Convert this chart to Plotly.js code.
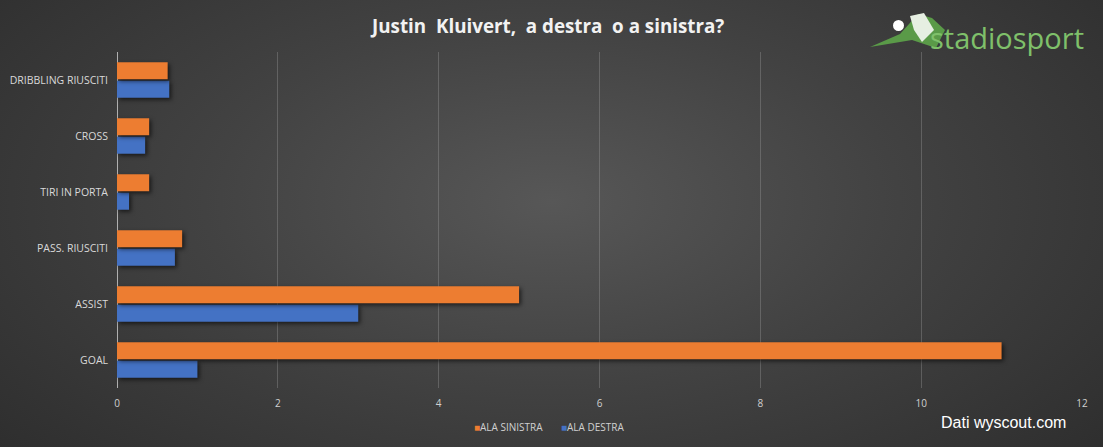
<!DOCTYPE html>
<html><head><meta charset="utf-8">
<script src="https://cdn.plot.ly/plotly-3.0.1.min.js"></script>
<style>
html,body{margin:0;padding:0;background:#2b2b2b;}
#chart{width:1103px;height:447px;background:radial-gradient(ellipse 70% 90% at 50% 45%, #575757 0%, #424242 45%, #2c2c2c 100%);}
#chart .trace.bars path{filter:drop-shadow(2px 2px 2px rgba(0,0,0,0.6));}
</style></head><body>
<div id="chart"></div>
<script>
const categories = ["GOAL","ASSIST","PASS. RIUSCITI","TIRI IN PORTA","CROSS","DRIBBLING RIUSCITI"];
const alaSinistra = [11, 5, 0.81, 0.4, 0.4, 0.63];
const alaDestra = [1, 3, 0.72, 0.15, 0.35, 0.65];
const xTicks = [0,2,4,6,8,10,12];
const seriesNames = ["ALA SINISTRA","ALA DESTRA"];
const seriesColors = ["#ED7D31","#4472C4"];

const traces = [
  {type:'bar', orientation:'h', name:seriesNames[1], y:categories, x:alaDestra,
   marker:{color:seriesColors[1]}, hoverinfo:'x'},
  {type:'bar', orientation:'h', name:seriesNames[0], y:categories, x:alaSinistra,
   marker:{color:seriesColors[0]}, hoverinfo:'x'}
];

const px = v => (v-117)/965;
const py = v => 1+(52-v)/336;

const legendItem = i => '<span style="color:'+seriesColors[i]+'">■</span>'+seriesNames[i];

const layout = {
  width:1103, height:447,
  paper_bgcolor:'rgba(0,0,0,0)', plot_bgcolor:'rgba(0,0,0,0)',
  margin:{l:117, r:21, t:52, b:59},
  barmode:'group', bargap:0.34, bargroupgap:0.08,
  title:{text:'<b>Justin  Kluivert,  a destra  o a sinistra?</b>', x:0.497, xanchor:'center', y:0.94, yanchor:'middle',
    font:{family:'Open Sans, sans-serif', size:18.8, color:'#f2f2f2'}},
  xaxis:{range:[0,12], tickvals:xTicks, showgrid:true, gridcolor:'rgba(160,160,160,0.35)', gridwidth:1,
    zeroline:true, zerolinecolor:'#b0b0b0', zerolinewidth:1, showline:false, ticks:'', ticklabelstandoff:8,
    tickfont:{family:'Open Sans, sans-serif', size:10, color:'#d0d0d0'}, fixedrange:true},
  yaxis:{type:'category', categoryorder:'array', categoryarray:categories, showgrid:false, zeroline:false, showline:false,
    ticks:'', ticklabelstandoff:8,
    tickfont:{family:'Open Sans, sans-serif', size:10.5, color:'#d9d9d9'}},
  showlegend:false,
  annotations:[
    {text:legendItem(0), xref:'paper', yref:'paper', x:px(472), xanchor:'left', y:py(427), yanchor:'middle',
     showarrow:false, font:{family:'Open Sans, sans-serif', size:10, color:'#d0d0d0'}},
    {text:legendItem(1), xref:'paper', yref:'paper', x:px(559), xanchor:'left', y:py(427), yanchor:'middle',
     showarrow:false, font:{family:'Open Sans, sans-serif', size:10, color:'#d0d0d0'}},
    {text:'Dati wyscout.com', xref:'paper', yref:'paper', x:px(1068), xanchor:'right', y:py(422), yanchor:'middle',
     showarrow:false, font:{family:'Liberation Sans, Arial, sans-serif', size:16, color:'#ffffff'}},
    {text:'stadiosport', xref:'paper', yref:'paper', x:px(1086), xanchor:'right', y:py(38), yanchor:'middle',
     showarrow:false, font:{family:'Open Sans, sans-serif', size:29, color:'#7fc06a'}}
  ],
  shapes:[
    {type:'path', xref:'paper', yref:'paper',
     path:'M '+px(870)+' '+py(47)+' L '+px(900)+' '+py(34)+' L '+px(918)+' '+py(14)+' L '+px(932)+' '+py(18)+' L '+px(945)+' '+py(30)+' L '+px(936)+' '+py(48)+' L '+px(912)+' '+py(40)+' Z',
     fillcolor:'#5a9a48', line:{width:0}},
    {type:'circle', xref:'paper', yref:'paper',
     x0:px(893), x1:px(904), y0:py(31), y1:py(20),
     fillcolor:'#ffffff', line:{width:0}},
    {type:'path', xref:'paper', yref:'paper',
     path:'M '+px(910)+' '+py(16)+' L '+px(924)+' '+py(13)+' L '+px(934)+' '+py(30)+' L '+px(922)+' '+py(42)+' L '+px(914)+' '+py(30)+' Z',
     fillcolor:'#e6efe2', line:{width:0}}
  ]
};

Plotly.newPlot('chart', traces, layout, {displayModeBar:false, staticPlot:true});
</script>
</body></html>
